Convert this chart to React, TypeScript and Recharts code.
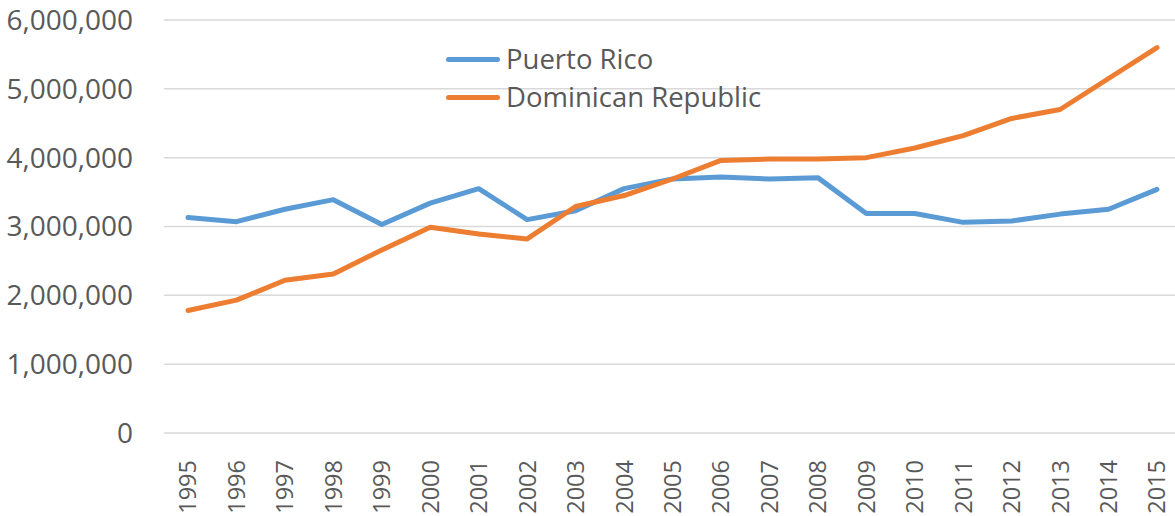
import { CartesianGrid, Line, LineChart, XAxis, YAxis } from "recharts";

const YEARS = [
  "1995", "1996", "1997", "1998", "1999", "2000", "2001", "2002", "2003", "2004", "2005",
  "2006", "2007", "2008", "2009", "2010", "2011", "2012", "2013", "2014", "2015",
];

const PUERTO_RICO = [
  3130000, 3070000, 3250000, 3390000, 3030000, 3340000, 3550000, 3100000, 3230000, 3550000, 3690000,
  3720000, 3690000, 3710000, 3190000, 3190000, 3060000, 3080000, 3180000, 3250000, 3540000,
];

const DOMINICAN_REPUBLIC = [
  1780000, 1930000, 2220000, 2310000, 2660000, 2990000, 2890000, 2820000, 3290000, 3450000, 3690000,
  3960000, 3980000, 3980000, 4000000, 4140000, 4320000, 4570000, 4700000, 5150000, 5600000,
];

const Y_TICKS = [0, 1000000, 2000000, 3000000, 4000000, 5000000, 6000000];

const BLUE = "#5b9bd5";
const ORANGE = "#ed7d31";
const TEXT = "#595959";
const FONT = "'Open Sans', sans-serif";

const data = YEARS.map((year, i) => ({
  year,
  pr: PUERTO_RICO[i],
  dr: DOMINICAN_REPUBLIC[i],
}));

const LEGEND_ITEMS = [
  { name: "Puerto Rico", color: BLUE },
  { name: "Dominican Republic", color: ORANGE },
];

function YearTick({ x, y, payload }: { x?: number; y?: number; payload?: { value: string } }) {
  const ty = (y ?? 0) + 19;
  return (
    <text
      x={x}
      y={ty}
      dy="0.36em"
      fill={TEXT}
      fontFamily={FONT}
      fontSize={23.5}
      textAnchor="end"
      transform={`rotate(-90, ${x}, ${ty})`}
    >
      {payload?.value}
    </text>
  );
}

export default function App() {
  return (
    <div style={{ position: "absolute", left: 0, top: 0, width: 1175, height: 516, overflow: "hidden", background: "#fff" }}>
      <LineChart width={1181} height={516} data={data} margin={{ top: 20, right: 0, left: 0, bottom: 0 }}>
        <CartesianGrid stroke="#d9d9d9" strokeWidth={1.5} vertical={false} />
        <XAxis
          axisLine={false}
          dataKey="year"
          height={83}
          interval={0}
          padding={{ left: 24, right: 24 }}
          tick={<YearTick />}
          tickLine={false}
        />
        <YAxis
          axisLine={false}
          domain={[0, 6000000]}
          tick={{ fill: TEXT, fontSize: 28, fontFamily: FONT }}
          tickFormatter={(v: number) => v.toLocaleString("en-US")}
          tickLine={false}
          tickMargin={25}
          tickSize={6}
          ticks={Y_TICKS}
          width={164}
        />
        <Line
          dataKey="pr"
          dot={false}
          isAnimationActive={false}
          name="Puerto Rico"
          stroke={BLUE}
          strokeLinecap="round"
          strokeLinejoin="round"
          strokeWidth={5}
          type="linear"
        />
        <Line
          dataKey="dr"
          dot={false}
          isAnimationActive={false}
          name="Dominican Republic"
          stroke={ORANGE}
          strokeLinecap="round"
          strokeLinejoin="round"
          strokeWidth={5}
          type="linear"
        />
      </LineChart>
      <div
        style={{
          position: "absolute",
          left: 446,
          top: 40,
          fontFamily: FONT,
          fontSize: 27.5,
          color: TEXT,
          lineHeight: "38px",
        }}
      >
        {LEGEND_ITEMS.map((item) => (
          <div key={item.name} style={{ display: "flex", alignItems: "center" }}>
            <span
              style={{
                width: 54,
                height: 5,
                borderRadius: 3,
                backgroundColor: item.color,
                marginRight: 6,
              }}
            />
            {item.name}
          </div>
        ))}
      </div>
    </div>
  );
}
